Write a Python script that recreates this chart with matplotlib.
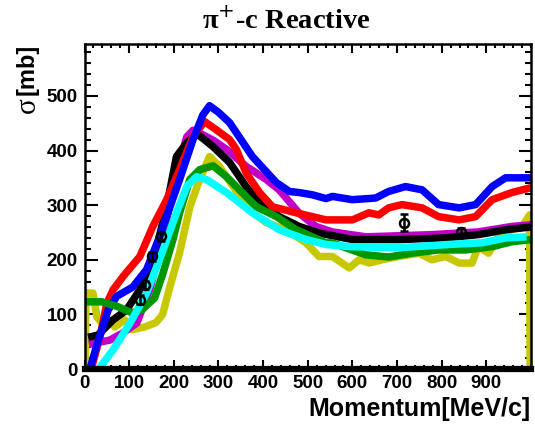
import matplotlib
matplotlib.use("Agg")
import matplotlib.pyplot as plt

# ---- data ----
blue_x = [12, 30, 53, 72, 108, 139, 168, 213, 243, 265, 280, 300, 325, 376, 430, 459, 481, 510, 541, 555, 600, 652, 681, 719, 756, 793, 839, 876, 913, 943, 1000]
blue_y = [0, 50, 108, 133, 150, 182, 242, 347, 420, 465, 482, 470, 451, 389, 341, 325, 323, 319, 312, 316, 310, 313, 325, 334, 328, 301, 295, 301, 334, 350, 350]

red_x = [15, 35, 50, 64, 86, 124, 153, 184, 213, 243, 269, 295, 325, 340, 362, 392, 421, 474, 541, 555, 600, 637, 659, 681, 711, 756, 793, 839, 876, 913, 957, 1000]
red_y = [0, 60, 120, 145, 169, 206, 261, 310, 365, 426, 453, 438, 420, 402, 359, 323, 297, 286, 273, 273, 273, 286, 282, 295, 301, 295, 279, 273, 279, 310, 323, 332]

black_x = [8, 30, 64, 94, 124, 153, 184, 206, 229, 253, 288, 325, 362, 392, 436, 481, 525, 600, 704, 808, 882, 943, 1000]
black_y = [58, 62, 90, 108, 145, 194, 297, 389, 414, 430, 407, 378, 334, 305, 279, 261, 249, 237, 237, 240, 246, 255, 260]

magenta_x = [10, 57, 86, 117, 146, 176, 206, 229, 243, 262, 290, 318, 362, 407, 436, 481, 518, 555, 630, 779, 882, 957, 1000]
magenta_y = [45, 53, 66, 84, 145, 242, 360, 425, 437, 430, 418, 402, 371, 347, 328, 285, 261, 251, 242, 246, 251, 261, 264]

green_x = [0, 39, 75, 106, 128, 157, 176, 198, 213, 236, 258, 288, 318, 347, 385, 430, 474, 541, 555, 630, 681, 733, 793, 853, 913, 957, 1000]
green_y = [123, 123, 114, 103, 108, 130, 176, 237, 286, 347, 365, 372, 352, 328, 297, 279, 255, 231, 231, 209, 205, 212, 218, 218, 224, 233, 237]

cyan_x = [32, 64, 102, 139, 176, 206, 229, 251, 273, 318, 376, 436, 496, 541, 593, 704, 816, 890, 943, 990]
cyan_y = [0, 35, 84, 139, 218, 286, 334, 352, 347, 323, 286, 255, 237, 228, 224, 222, 228, 231, 240, 242]

yellow_x = [2, 3, 8, 19, 28, 39, 53, 68, 90, 106, 135, 160, 175, 191, 213, 236, 258, 280, 302, 333, 369, 407, 452, 496, 511, 525, 555, 593, 615, 637, 667, 704, 749, 778, 809, 839, 868, 882, 905, 927, 957, 980, 997, 998]
yellow_y = [0, 140, 139, 139, 95, 84, 90, 77, 90, 72, 77, 85, 100, 150, 213, 297, 347, 389, 371, 334, 292, 268, 255, 231, 218, 206, 206, 185, 200, 194, 200, 206, 212, 200, 206, 194, 194, 224, 212, 242, 255, 261, 282, 0]

data_x = [124, 135, 152, 172, 715, 843]
data_y = [127, 154, 206, 243, 268, 251]
data_err = [8, 8, 8, 8, 15, 8]

x_ticks = [0, 100, 200, 300, 400, 500, 600, 700, 800, 900]
y_ticks = [0, 100, 200, 300, 400, 500]

# ---- figure ----
W, H = 535, 424
fig = plt.figure(figsize=(W / 100, H / 100), dpi=100)
ax = fig.add_axes([84.5 / W, 1 - 369 / H, (531 - 84.5) / W, (369 - 44) / H])

lw = 5.4
kw = dict(lw=lw, solid_joinstyle='round', solid_capstyle='butt')
ax.plot(yellow_x, yellow_y, color='#c8c800', **kw)
ax.plot(magenta_x, magenta_y, color='#c000c8', **kw)
ax.plot(black_x, black_y, color='black', **kw)
ax.plot(red_x, red_y, color='#ff0000', **kw)
ax.plot(blue_x, blue_y, color='#0000ff', **kw)
ax.plot(green_x, green_y, color='#009600', **kw)
ax.plot(cyan_x, cyan_y, color='#00ffff', **kw)

ax.errorbar(data_x, data_y, yerr=data_err, fmt='o', mfc='none', mec='black',
            ecolor='black', ms=6.5, mew=1.8, elinewidth=1.8, capsize=3, capthick=1.8, zorder=10)

ax.set_xlim(0, 1000)
ax.set_ylim(0, 595)
ax.set_xticks(x_ticks)
ax.set_yticks(y_ticks)
ax.set_xticks(range(0, 1001, 20), minor=True)
ax.set_yticks(range(0, 595, 20), minor=True)

tickfont = dict(family='Liberation Sans', weight='bold', size=13.5)
ax.set_xticklabels([str(v) for v in x_ticks], fontdict=tickfont)
ax.set_yticklabels([str(v) for v in y_ticks], fontdict=tickfont)

ax.tick_params(axis='both', which='both', direction='in', top=True, right=True, width=1.5, colors='black')
ax.tick_params(axis='x', which='major', length=6.5, pad=4)
ax.tick_params(axis='x', which='minor', length=3.2)
ax.tick_params(axis='y', which='major', length=9, pad=5)
ax.tick_params(axis='y', which='minor', length=4.5)

for s in ['left', 'top', 'right']:
    ax.spines[s].set_linewidth(1.8)
ax.spines['bottom'].set_linewidth(4.5)

fig.text(286 / W, 1 - 21 / H, 'π$^{+}$-c Reactive', ha='center', va='center',
         family='Liberation Serif', weight='bold', size=20.5)
fig.text(531 / W, 1 - 409 / H, 'Momentum[MeV/c]', ha='right', va='center',
         family='Liberation Sans', weight='bold', size=18)
fig.text(27 / W, 1 - 44 / H, '[mb]', ha='center', va='top', rotation=90,
         family='Liberation Sans', weight='bold', size=17)
fig.text(28 / W, 1 - 97 / H, 'σ', ha='center', va='top', rotation=90,
         family='Liberation Serif', size=21)

fig.savefig('out.png', dpi=100)
